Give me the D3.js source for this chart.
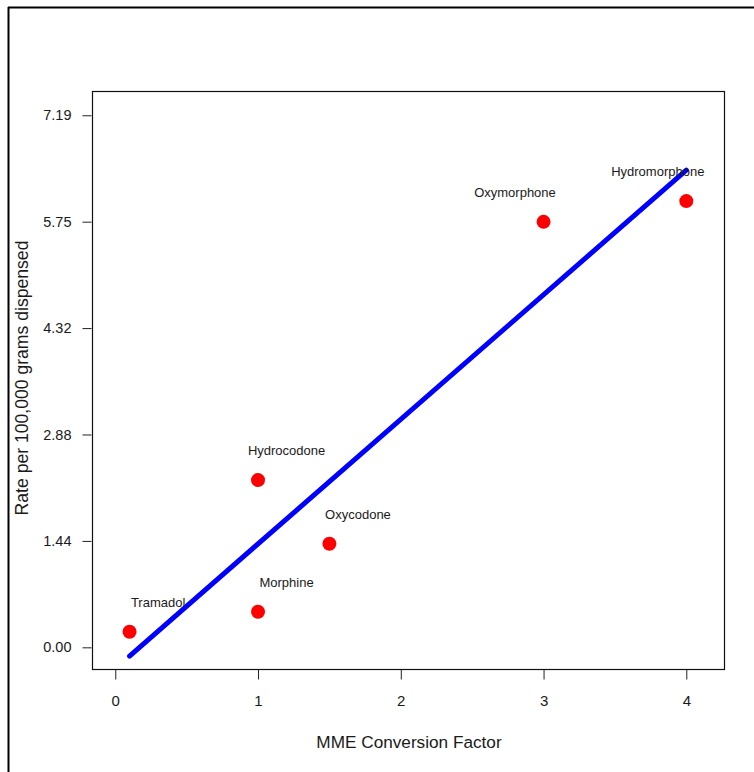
<!DOCTYPE html>
<html>
<head>
<meta charset="utf-8">
<script src="https://cdn.jsdelivr.net/npm/d3@7/dist/d3.min.js"></script>
<style>
  html, body { margin: 0; padding: 0; background: #fff; }
  svg { display: block; }
  text { font-family: "Liberation Sans", Arial, sans-serif; fill: #1a1a1a; }
</style>
</head>
<body>
<svg id="chart" width="754" height="772"></svg>
<script>
// ---- data ----
const drugs = ["Tramadol", "Morphine", "Hydrocodone", "Oxycodone", "Oxymorphone", "Hydromorphone"];
const mmeFactor = [0.1, 1, 1, 1.5, 3, 4];
const ratePer100k = [0.21, 0.48, 2.26, 1.40, 5.75, 6.03];
const xTickValues = [0, 1, 2, 3, 4];
const yTickValues = [0, 1.438, 2.876, 4.314, 5.752, 7.19];
const yTickLabels = ["0.00", "1.44", "2.88", "4.32", "5.75", "7.19"];
const xTitle = "MME Conversion Factor";
const yTitle = "Rate per 100,000 grams dispensed";

const svg = d3.select("#chart");
const W = 754, H = 772;

// outer frame
svg.append("line").attr("x1", 8).attr("x2", W + 2).attr("y1", 7.5).attr("y2", 7.5)
  .attr("stroke", "#000").attr("stroke-width", 2);
svg.append("line").attr("x1", 8.5).attr("x2", 8.5).attr("y1", 7).attr("y2", H + 2)
  .attr("stroke", "#000").attr("stroke-width", 2);

// plot box
const box = { left: 92, right: 724, top: 91, bottom: 669 };
const x = d3.scaleLinear().domain([-0.163, 4.264]).range([box.left, box.right]);
const y = d3.scaleLinear().domain([-0.293, 7.518]).range([box.bottom, box.top]);

// axes
const yAxis = d3.axisLeft(y).tickValues(yTickValues)
  .tickFormat((d, i) => yTickLabels[i]).tickSizeInner(9).tickSizeOuter(0).tickPadding(11);
const gy = svg.append("g").attr("transform", `translate(${box.left - 0.5},0)`).call(yAxis);
gy.select(".domain").remove();
gy.selectAll("text").attr("font-size", 14.5).attr("font-family", "Liberation Sans, Arial, sans-serif").attr("fill", "#1a1a1a");
gy.selectAll("line").attr("stroke", "#222");

const xAxis = d3.axisBottom(x).tickValues(xTickValues).tickFormat(d3.format("d"))
  .tickSizeInner(10).tickSizeOuter(0).tickPadding(16);
const gx = svg.append("g").attr("transform", `translate(0,${box.bottom + 0.5})`).call(xAxis);
gx.select(".domain").remove();
gx.selectAll("text").attr("font-size", 15).attr("font-family", "Liberation Sans, Arial, sans-serif").attr("fill", "#1a1a1a");
gx.selectAll("line").attr("stroke", "#222");

// box
svg.append("rect")
  .attr("x", box.left + 0.5).attr("y", box.top + 0.5)
  .attr("width", box.right - box.left).attr("height", box.bottom - box.top)
  .attr("fill", "none").attr("stroke", "#111").attr("stroke-width", 1.2);

// titles
svg.append("text").attr("x", (box.left + box.right) / 2 + 1).attr("y", 748)
  .attr("text-anchor", "middle").attr("font-size", 17.2).text(xTitle);
svg.append("text").attr("transform", "translate(28,378) rotate(-90)")
  .attr("text-anchor", "middle").attr("font-size", 17.6).text(yTitle);

// data rows
const rows = drugs.map((d, i) => ({ name: d, x: mmeFactor[i], y: ratePer100k[i] }));

// least-squares fit line
const mx = d3.mean(rows, r => r.x), my = d3.mean(rows, r => r.y);
const sxy = d3.sum(rows, r => (r.x - mx) * (r.y - my));
const sxx = d3.sum(rows, r => (r.x - mx) ** 2);
const slope = sxy / sxx, intercept = my - slope * mx;
const xr = d3.extent(rows, r => r.x);
const fit = xr.map(v => ({ x: v, y: intercept + slope * v }));

// points
svg.append("g").selectAll("circle").data(rows).join("circle")
  .attr("cx", r => x(r.x)).attr("cy", r => y(r.y)).attr("r", 7)
  .attr("fill", "#ff0000");

// fit line
svg.append("path").datum(fit)
  .attr("d", d3.line().x(p => x(p.x)).y(p => y(p.y)))
  .attr("stroke", "#0000ff").attr("stroke-width", 5)
  .attr("stroke-linecap", "round").attr("fill", "none");

// point labels, offset in data units (left of point on the right side of chart)
svg.append("g").selectAll("text").data(rows).join("text")
  .attr("x", r => x(r.x + (r.x >= 3 ? -0.2 : 0.2)))
  .attr("y", r => y(r.y + 0.4))
  .attr("dy", "0.35em")
  .attr("text-anchor", "middle")
  .attr("font-size", 13)
  .text(r => r.name);
</script>
</body>
</html>
